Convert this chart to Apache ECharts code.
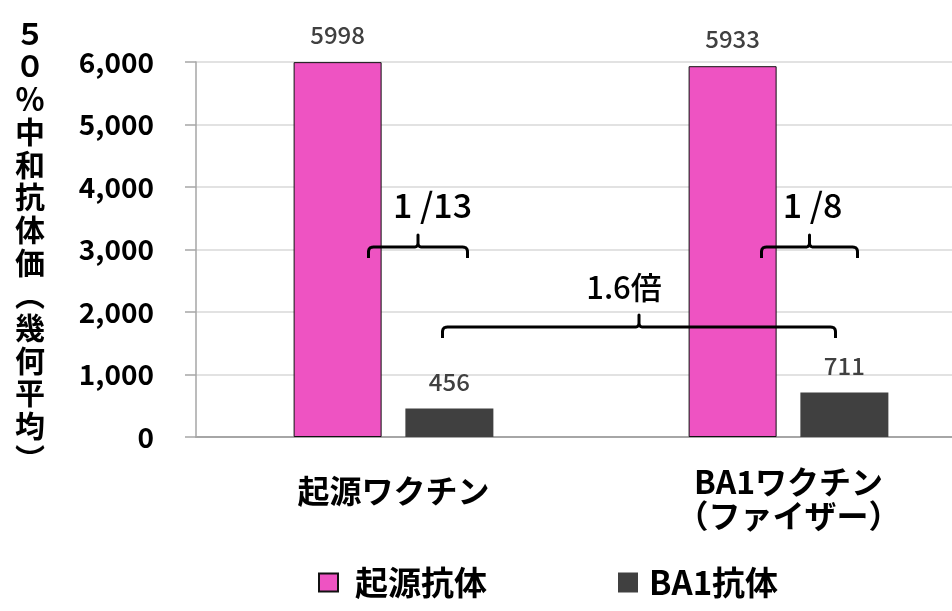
<!DOCTYPE html>
<html>
<head>
<meta charset="utf-8">
<script src="https://cdn.jsdelivr.net/npm/echarts@6/dist/echarts.min.js"></script>
<style>
html,body{margin:0;padding:0;background:#fff;}
#c{width:952px;height:611px;}
</style>
</head>
<body>
<div id="c"></div>
<script>
const categories = ['起源ワクチン', 'BA1ワクチン\n（ファイザー）'];
const seriesNames = ['起源抗体', 'BA1抗体'];
const originValues = [5998, 5933];
const ba1Values = [456, 711];
const yTicks = [0, 1000, 2000, 3000, 4000, 5000, 6000];
const yTitle = '５０％中和抗体価︵幾何平均︶';
const ratioTexts = ['1 /13', '1 /8', '1.6倍'];
const ratioLevels = [3040, 3040, 1760];

const FONT = "Noto Sans CJK JP";
const PINK = '#EE53C2';
const GRAY = '#404040';

const chart = echarts.init(document.getElementById('c'), null, {renderer: 'canvas'});

const option = {
  backgroundColor: '#ffffff',
  animation: false,
  textStyle: {fontFamily: FONT},
  grid: {left: 196, width: 790, top: 62, bottom: 174, containLabel: false, outerBoundsMode: 'none'},
  legend: [
    {
      left: 318, top: 566, padding: 0, itemWidth: 19, itemHeight: 18, icon: 'rect',
      data: [seriesNames[0]],
      textStyle: {fontFamily: FONT, fontSize: 33, fontWeight: 'bold', color: '#000', padding: [0, 0, 0, 12]}
    },
    {
      left: 618, top: 566, padding: 0, itemWidth: 20, itemHeight: 20, icon: 'rect',
      data: [seriesNames[1]],
      textStyle: {fontFamily: FONT, fontSize: 33, fontWeight: 'bold', color: '#000', padding: [0, 0, 0, 6]}
    }
  ],
  xAxis: {
    type: 'category',
    data: categories,
    axisLine: {show: true, lineStyle: {color: '#a6a6a6', width: 2}},
    axisTick: {show: false},
    axisLabel: {
      margin: 28,
      color: '#000',
      fontFamily: FONT,
      fontSize: 32,
      fontWeight: 'bold',
      lineHeight: 34,
      formatter: function (v, i) { return i === 0 ? '{a|' + v + '}' : v; },
      rich: {a: {fontFamily: FONT, fontSize: 32, fontWeight: 'bold', color: '#000', lineHeight: 34, padding: [18, 0, 0, 0]}}
    }
  },
  yAxis: {
    type: 'value',
    min: yTicks[0],
    max: yTicks[yTicks.length - 1],
    interval: 1000,
    axisLine: {show: true, lineStyle: {color: '#a6a6a6', width: 1.5}},
    axisTick: {show: true, inside: false, length: 11, lineStyle: {color: '#a6a6a6', width: 1.5}},
    splitLine: {show: true, lineStyle: {color: '#d9d9d9', width: 1.5}},
    axisLabel: {
      margin: 42,
      color: '#000',
      fontFamily: FONT,
      fontSize: 28,
      fontWeight: 'bold',
      formatter: function (v) { return v.toLocaleString('en-US'); }
    }
  },
  series: [
    {
      name: seriesNames[0],
      type: 'bar',
      data: originValues,
      barWidth: 88,
      barGap: '27%',
      itemStyle: {color: PINK, borderColor: '#111', borderWidth: 1},
      label: {show: true, position: 'top', distance: 15, color: GRAY, fontFamily: FONT, fontSize: 24, fontWeight: 500}
    },
    {
      name: seriesNames[1],
      type: 'bar',
      data: ba1Values,
      barWidth: 88,
      barGap: '27%',
      itemStyle: {color: GRAY},
      label: {show: true, position: 'top', distance: 15, color: GRAY, fontFamily: FONT, fontSize: 24, fontWeight: 500}
    }
  ]
};
chart.setOption(option);

function quad(p0, p1, p2, pts) {
  for (let k = 1; k <= 6; k++) {
    const t = k / 6, u = 1 - t;
    pts.push([u * u * p0[0] + 2 * u * t * p1[0] + t * t * p2[0], u * u * p0[1] + 2 * u * t * p1[1] + t * t * p2[1]]);
  }
}

function bracketPoints(x1, x2, xm, y) {
  const d = 11, n = 12, r = 5;
  const pts = [[x1, y + d], [x1, y + r]];
  quad([x1, y + r], [x1, y], [x1 + r, y], pts);
  pts.push([xm - 4, y]);
  quad([xm - 4, y], [xm, y], [xm, y - 4], pts);
  pts.push([xm, y - n]);
  pts.push([xm, y - 4]);
  quad([xm, y - 4], [xm, y], [xm + 4, y], pts);
  pts.push([x2 - r, y]);
  quad([x2 - r, y], [x2, y], [x2, y + r], pts);
  pts.push([x2, y + d]);
  return pts;
}

function drawAnnotations() {
  const c0 = chart.convertToPixel({gridIndex: 0}, [0, ratioLevels[0]]);
  const c1 = chart.convertToPixel({gridIndex: 0}, [1, ratioLevels[1]]);
  const c2a = chart.convertToPixel({gridIndex: 0}, [0, ratioLevels[2]]);
  const c2b = chart.convertToPixel({gridIndex: 0}, [1, ratioLevels[2]]);
  const specs = [
    {x1: c0[0] - 25, x2: c0[0] + 74, y: c0[1], tx: c0[0] + 39, ty: c0[1] - 42, fs: 34},
    {x1: c1[0] - 27, x2: c1[0] + 69, y: c1[1], tx: c1[0] + 24, ty: c1[1] - 42, fs: 34},
    {x1: c2a[0] + 49, x2: c2b[0] + 47, y: c2a[1], tx: (c2a[0] + 49 + c2b[0] + 47) / 2 - 15, ty: c2a[1] - 40, fs: 31}
  ];
  const elements = [];
  specs.forEach(function (s, i) {
    const xm = (s.x1 + s.x2) / 2;
    elements.push({
      type: 'polyline',
      shape: {points: bracketPoints(s.x1, s.x2, xm, s.y)},
      style: {fill: null, stroke: '#000', lineWidth: 3, lineJoin: 'round'},
      z: 10
    });
    elements.push({
      type: 'text',
      x: s.tx, y: s.ty,
      style: {text: ratioTexts[i], fill: '#000', fontFamily: FONT, fontSize: s.fs, fontWeight: 500, align: 'center', verticalAlign: 'middle'},
      z: 10
    });
  });
  elements.push({
    type: 'text',
    x: 30, y: 17,
    style: {
      text: yTitle.split('').join('\n'),
      fill: '#000',
      fontFamily: FONT,
      fontSize: 30,
      fontWeight: 'bold',
      lineHeight: 32.7,
      align: 'center',
      verticalAlign: 'top'
    }
  });
  chart.setOption({graphic: {elements: elements}});
}
drawAnnotations();
</script>
</body>
</html>
